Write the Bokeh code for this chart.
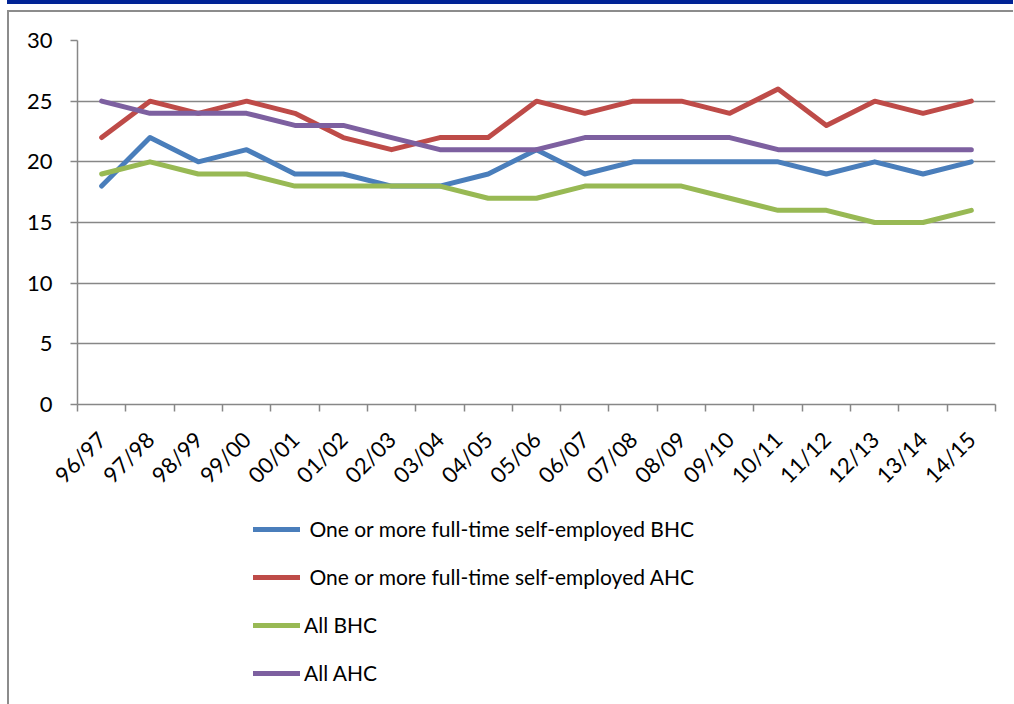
import math
from bokeh.plotting import figure
from bokeh.layouts import column
from bokeh.models import FixedTicker, LinearAxis, Legend, LegendItem, Range1d
from bokeh.embed import file_html
from bokeh.resources import INLINE

years = ["96/97", "97/98", "98/99", "99/00", "00/01", "01/02", "02/03", "03/04",
         "04/05", "05/06", "06/07", "07/08", "08/09", "09/10", "10/11", "11/12",
         "12/13", "13/14", "14/15"]
se_bhc = [18, 22, 20, 21, 19, 19, 18, 18, 19, 21, 19, 20, 20, 20, 20, 19, 20, 19, 20]
se_ahc = [22, 25, 24, 25, 24, 22, 21, 22, 22, 25, 24, 25, 25, 24, 26, 23, 25, 24, 25]
all_bhc = [19, 20, 19, 19, 18, 18, 18, 18, 17, 17, 18, 18, 18, 17, 16, 16, 15, 15, 16]
all_ahc = [25, 24, 24, 24, 23, 23, 22, 21, 21, 21, 22, 22, 22, 22, 21, 21, 21, 21, 21]
y_ticks = [0, 5, 10, 15, 20, 25, 30]

series_labels = [" One or more full-time self-employed BHC",
                 " One or more full-time self-employed AHC",
                 "All BHC", "All AHC"]
series_values = [se_bhc, se_ahc, all_bhc, all_ahc]
colors = ["#4A7EBB", "#BE4B48", "#98B954", "#7D60A0"]

FONT = "Lato"
GRAY = "#878787"

n = len(years)
idx = list(range(n))

# ---------------- main chart ----------------
p = figure(frame_width=918, frame_height=364,
           x_range=Range1d(-0.5, n - 0.5), y_range=Range1d(0, 30),
           x_axis_location=None, y_axis_location="left",
           output_backend="svg", toolbar_location=None,
           min_border_left=68, min_border_right=18, min_border_top=28, min_border_bottom=90,
           outline_line_color=None)

p.xgrid.visible = False
p.ygrid.ticker = FixedTicker(ticks=y_ticks[1:])
p.ygrid.grid_line_color = GRAY
p.ygrid.grid_line_width = 1.5

ya = p.yaxis[0]
ya.ticker = FixedTicker(ticks=y_ticks)
ya.axis_line_color = GRAY
ya.axis_line_width = 1.5
ya.major_tick_line_color = GRAY
ya.major_tick_line_width = 1.5
ya.major_tick_out = 7
ya.major_tick_in = 0
ya.minor_tick_line_color = None
ya.major_label_standoff = 18
ya.major_label_text_font = FONT
ya.major_label_text_font_size = "22px"
ya.major_label_text_color = "black"

# tick-mark axis at category boundaries
xa_ticks = LinearAxis(ticker=FixedTicker(ticks=[i - 0.5 for i in range(n + 1)]),
                      major_label_overrides={i - 0.5: "" for i in range(n + 1)},
                      axis_line_color=GRAY, axis_line_width=1.5,
                      major_tick_line_color=GRAY, major_tick_line_width=1.5,
                      major_tick_out=7, major_tick_in=0,
                      minor_tick_line_color=None,
                      major_label_text_font_size="1px", major_label_standoff=0)
# label axis at category centres
xa_labels = LinearAxis(ticker=FixedTicker(ticks=idx),
                       major_label_overrides={i: years[i] for i in idx},
                       axis_line_color=None, major_tick_line_color=None,
                       minor_tick_line_color=None,
                       major_label_orientation=math.pi / 4,
                       major_label_standoff=18,
                       major_label_text_font=FONT,
                       major_label_text_font_size="22px",
                       major_label_text_color="black")
p.add_layout(xa_ticks, "below")
p.add_layout(xa_labels, "below")

for vals, col in zip(series_values, colors):
    p.line(x=idx, y=vals, line_color=col, line_width=5,
           line_cap="round", line_join="round")

# ---------------- legend strip ----------------
q = figure(width=1004, height=210,
           x_range=Range1d(-0.5, n - 0.5), y_range=Range1d(100, 130),
           x_axis_location=None, y_axis_location=None,
           output_backend="svg", toolbar_location=None,
           min_border_left=0, min_border_right=0, min_border_top=0, min_border_bottom=0,
           outline_line_color=None)
q.xgrid.visible = False
q.ygrid.visible = False

items = []
for lab, vals, col in zip(series_labels, series_values, colors):
    r = q.line(x=idx, y=vals, line_color=col, line_width=5,
               line_cap="round", line_join="round")
    items.append(LegendItem(label=lab, renderers=[r]))

legend = Legend(items=items, location=(176, 25), orientation="vertical",
                glyph_width=47, glyph_height=20, label_height=20,
                spacing=23, padding=0, margin=0, label_standoff=4,
                label_text_font=FONT, label_text_font_size="21px",
                label_text_color="black",
                border_line_color=None, background_fill_alpha=0)
q.add_layout(legend)

page = column(p, q, spacing=0,
              styles={"border-top": "2px solid #8c8c8c", "border-left": "2px solid #8c8c8c",
                      "margin-top": "10px", "margin-left": "7px",
                      "box-shadow": "0 -6px 0 0 #ffffff, 0 -10px 0 0 #002395"})

open("out.html", "w").write(file_html(page, INLINE))
